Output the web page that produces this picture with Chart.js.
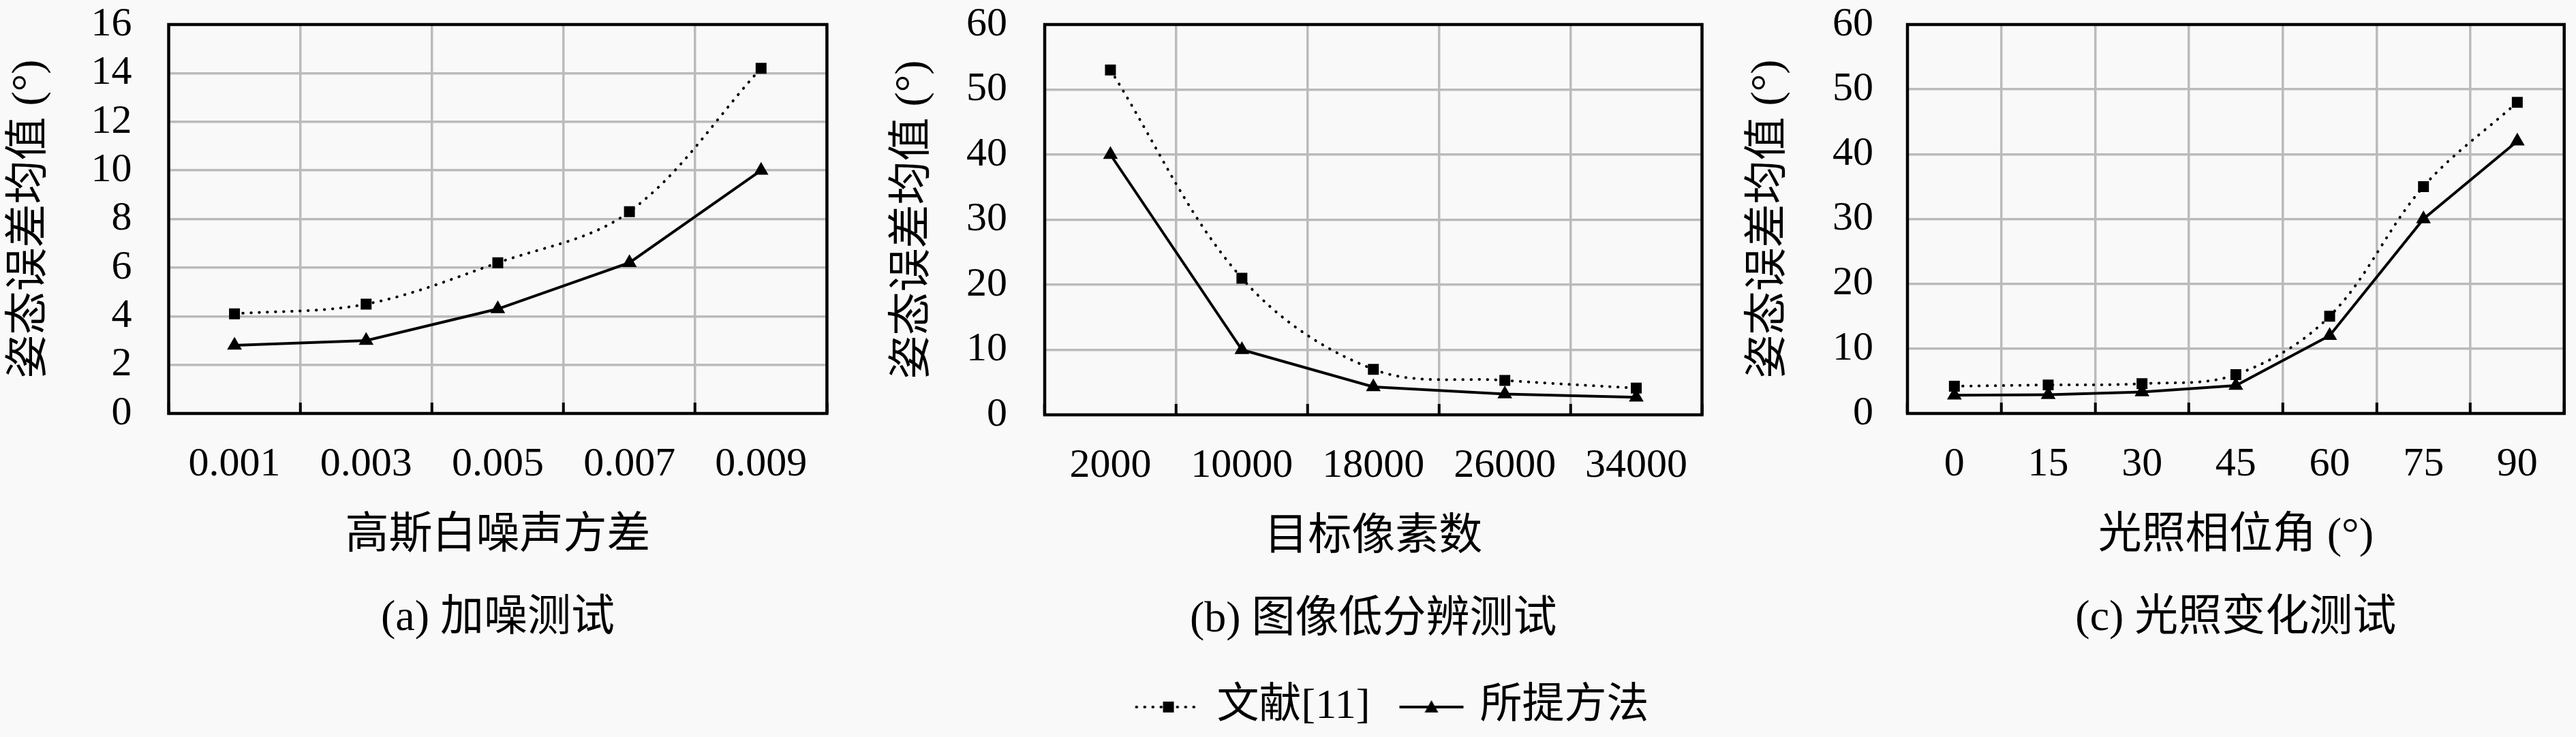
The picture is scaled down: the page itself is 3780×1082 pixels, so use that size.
<!DOCTYPE html>
<html>
<head>
<meta charset="utf-8">
<script src="https://cdn.jsdelivr.net/npm/chart.js@4.4.1/dist/chart.umd.min.js"></script>
<style>
html, body { margin: 0; padding: 0; background: #f9f9f9; }
body { width: 3780px; height: 1082px; position: relative; overflow: hidden; }
.box { position: absolute; top: 0; height: 1082px; }
</style>
</head>
<body>
<div class="box" style="left:0px;width:1260px"><canvas id="chartA"></canvas></div>
<div class="box" style="left:1260px;width:1574px"><canvas id="chartB"></canvas></div>
<div class="box" style="left:2520px;width:1260px"><canvas id="chartC"></canvas></div>
<script>
// series names
var refName = "文献[11]";
var oursName = "所提方法";
var yTitle = "姿态误差均值 (°)";

// (a) noise test
var noiseLabels = ["0.001", "0.003", "0.005", "0.007", "0.009"];
var noiseRef = [4.1, 4.5, 6.2, 8.3, 14.2];
var noiseOurs = [2.8, 3.0, 4.3, 6.2, 10.0];

// (b) low resolution test
var pixelLabels = ["2000", "10000", "18000", "26000", "34000"];
var pixelRef = [53, 21, 7, 5.3, 4.1];
var pixelOurs = [40, 10, 4.3, 3.2, 2.7];

// (c) lighting test
var phaseLabels = ["0", "15", "30", "45", "60", "75", "90"];
var phaseRef = [4.2, 4.4, 4.6, 6.0, 15, 35, 48];
var phaseOurs = [2.8, 2.9, 3.3, 4.3, 12, 30, 42];

var serif = '"Liberation Serif", "Noto Sans CJK SC", serif';
Chart.defaults.color = '#000';
Chart.defaults.font.family = serif;

// legend symbols: line with marker in the middle
function legendIcon(kind) {
  var c = document.createElement('canvas');
  c.width = 100; c.height = 30;
  var g = c.getContext('2d');
  g.strokeStyle = '#000';
  g.fillStyle = '#000';
  g.lineWidth = 4;
  if (kind == 'dot') { g.setLineDash([0.5, 11.5]); g.lineCap = 'round'; }
  g.beginPath(); g.moveTo(3, 15); g.lineTo(97, 15); g.stroke();
  g.setLineDash([]);
  if (kind == 'dot') {
    g.fillRect(42, 7, 16, 16);
  } else {
    g.beginPath(); g.moveTo(50, 5); g.lineTo(60, 23); g.lineTo(40, 23); g.closePath(); g.fill();
  }
  return c;
}
var icons = [legendIcon('dot'), legendIcon('solid')];

// box around the plot area
var frame = {
  id: 'frame',
  beforeDatasetsDraw: function(chart) {
    var a = chart.chartArea, g = chart.ctx;
    g.save();
    g.strokeStyle = '#000';
    g.lineWidth = 4.5;
    g.strokeRect(a.left, a.top, a.right - a.left, a.bottom - a.top);
    g.restore();
  }
};

function makeChart(id, labels, refData, oursData, yMax, yStep, xTitle, caption, lay) {
  var showLegend = !!lay.legend;
  return new Chart(document.getElementById(id), {
    type: 'line',
    data: {
      labels: labels,
      datasets: [
        {
          label: refName,
          data: refData,
          borderColor: '#000',
          backgroundColor: '#000',
          borderWidth: 4,
          borderDash: [0.5, 11.5],
          borderCapStyle: 'round',
          tension: 0.35,
          pointStyle: 'rect',
          pointRadius: 11.3,
          pointBorderWidth: 0
        },
        {
          label: oursName,
          data: oursData,
          borderColor: '#000',
          backgroundColor: '#000',
          borderWidth: 4,
          tension: 0,
          pointStyle: 'triangle',
          pointRadius: 12.5,
          pointBorderWidth: 0
        }
      ]
    },
    options: {
      responsive: true,
      maintainAspectRatio: false,
      animation: false,
      layout: { padding: { top: 36, left: 0, right: 0, bottom: lay.bottom } },
      scales: {
        x: {
          offset: true,
          grid: { offset: true, color: '#bbbbbb', lineWidth: 3.5, tickLength: -16, tickColor: '#000', tickWidth: 4 },
          border: { display: false },
          ticks: { autoSkip: false, maxRotation: 0, padding: 55, font: { size: 60 } },
          title: { display: true, text: xTitle, font: { size: 64 }, padding: { top: 0, bottom: 24.6 } },
          afterFit: function(s) { s.height = 243; }
        },
        y: {
          min: 0, max: yMax,
          grid: { color: '#bbbbbb', lineWidth: 3.5, drawTicks: true, tickLength: lay.tickPad, tickColor: 'rgba(0,0,0,0)' },
          border: { display: false },
          ticks: { stepSize: yStep, autoSkip: false, padding: 0, font: { size: 60 } },
          title: { display: true, text: yTitle, font: { size: 64 }, padding: { top: lay.titlePad, bottom: 0 } },
          afterFit: function(s) { s.width = lay.axisW; }
        },
        pad: {
          position: 'right',
          grid: { display: false },
          border: { display: false },
          ticks: { display: false },
          afterFit: function(s) { s.width = lay.right; }
        }
      },
      plugins: {
        tooltip: { enabled: false },
        title: {
          display: true, text: caption, position: 'bottom', fullSize: false,
          font: { size: 64, weight: 'normal' }, color: '#000',
          padding: { top: 19.6, bottom: lay.capBottom }
        },
        legend: {
          display: showLegend,
          position: 'bottom',
          weight: 3000,
          labels: {
            usePointStyle: true,
            pointStyleWidth: 80,
            padding: 50,
            font: { size: 62 },
            color: '#000',
            generateLabels: function(chart) {
              var items = Chart.defaults.plugins.legend.labels.generateLabels(chart);
              items.forEach(function(it, i) { it.pointStyle = icons[i]; });
              return items;
            }
          }
        }
      }
    },
    plugins: [frame]
  });
}

makeChart('chartA', noiseLabels, noiseRef, noiseOurs, 16, 2, "高斯白噪声方差", "(a) 加噪测试",
  { axisW: 247.5, titlePad: 5.6, tickPad: 54, right: 46.6, bottom: 135.6, capBottom: 0 });
makeChart('chartB', pixelLabels, pixelRef, pixelOurs, 60, 10, "目标像素数", "(b) 图像低分辨测试",
  { axisW: 273, titlePad: 41.6, tickPad: 55, right: 336.5, bottom: 3, capBottom: 8.6, legend: true });
makeChart('chartC', phaseLabels, phaseRef, phaseOurs, 60, 10, "光照相位角 (°)", "(c) 光照变化测试",
  { axisW: 279, titlePad: 37.6, tickPad: 50, right: 16, bottom: 135.6, capBottom: 0 });
</script>
</body>
</html>
